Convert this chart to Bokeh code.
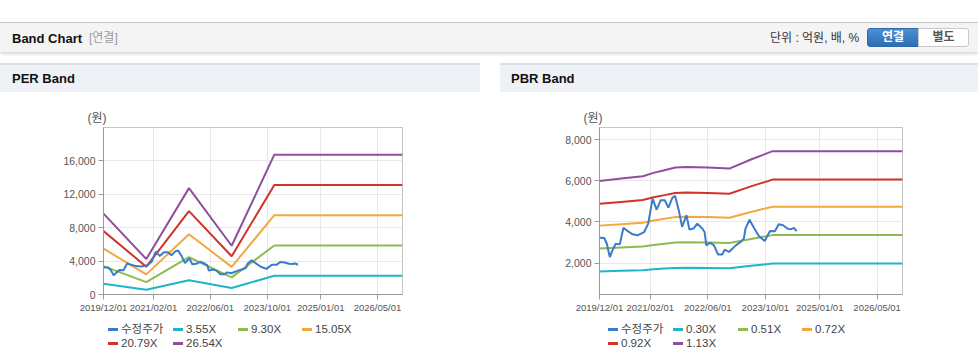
import pandas as pd
from bokeh.plotting import figure
from bokeh.models import (Div, FixedTicker, DatetimeTickFormatter,
                          Range1d, NumeralTickFormatter, Title)
from bokeh.layouts import column, row
from bokeh.embed import file_html
from bokeh.resources import INLINE

# ---------------- data ----------------
price_dates = ["2019-12-01", "2020-01-10", "2020-02-01", "2020-02-26", "2020-03-19", "2020-04-16",
               "2020-05-20", "2020-06-20", "2020-07-18", "2020-09-05", "2020-10-17", "2020-12-12",
               "2021-01-15", "2021-02-21", "2021-03-27", "2021-05-01", "2021-06-04", "2021-07-04",
               "2021-08-08", "2021-08-30", "2021-09-30", "2021-10-28", "2021-12-04", "2021-12-29",
               "2022-02-01", "2022-03-05", "2022-04-16", "2022-05-06", "2022-05-20", "2022-06-20",
               "2022-07-24", "2022-08-27", "2022-10-02", "2022-10-22", "2022-11-28", "2023-01-24",
               "2023-03-05", "2023-04-02", "2023-04-16", "2023-05-20", "2023-06-26", "2023-08-07",
               "2023-09-25", "2023-11-09", "2023-12-20", "2024-01-21", "2024-02-27", "2024-04-03",
               "2024-05-01", "2024-05-29", "2024-06-20"]
price_values = [3230, 3220, 2940, 2290, 2620, 2940, 2910, 3720, 3590, 3400, 3350, 3510,
                3920, 5140, 4600, 5060, 5060, 4700, 5190, 5270, 4570, 3760, 4330, 3630,
                3680, 3920, 3680, 3510, 2860, 2990, 2860, 2420, 2420, 2650, 2540, 2860,
                3020, 3190, 3680, 4110, 3720, 3320, 3070, 3560, 3550, 3890, 3840, 3680,
                3640, 3710, 3560]

per_dates = ["2019-12-01", "2020-12-01", "2021-12-01", "2022-12-01", "2023-12-01", "2026-12-01"]
per_355 = [1296, 568, 1704, 781, 2240, 2240]
per_930 = [3395, 1488, 4464, 2046, 5868, 5868]
per_1505 = [5493, 2408, 7224, 3311, 9497, 9497]
per_2079 = [7588, 3326, 9979, 4574, 13118, 13118]
per_2654 = [9687, 4246, 12739, 5839, 16747, 16747]
per_labels = ["수정주가", "3.55X", "9.30X", "15.05X", "20.79X", "26.54X"]

pbr_dates = ["2019-12-01", "2020-06-01", "2020-12-01", "2021-03-01", "2021-06-01", "2021-09-01",
             "2021-12-01", "2022-06-01", "2022-12-01", "2023-06-01", "2023-12-01", "2026-12-01"]
pbr_030 = [1593, 1623, 1653, 1697, 1731, 1766, 1774, 1766, 1753, 1869, 1977, 1977]
pbr_051 = [2708, 2759, 2810, 2884, 2943, 3001, 3016, 3001, 2979, 3177, 3361, 3361]
pbr_072 = [3823, 3895, 3967, 4072, 4154, 4237, 4258, 4237, 4206, 4486, 4745, 4745]
pbr_092 = [4885, 4977, 5069, 5203, 5308, 5414, 5441, 5414, 5375, 5732, 6063, 6063]
pbr_113 = [6000, 6113, 6226, 6390, 6520, 6650, 6683, 6650, 6601, 7040, 7447, 7447]
pbr_labels = ["수정주가", "0.30X", "0.51X", "0.72X", "0.92X", "1.13X"]

x_tick_dates = ["2019-12-01", "2021-02-01", "2022-06-01", "2023-10-01", "2025-01-01", "2026-05-01"]
x_start, x_end = "2019-12-01", "2026-12-01"
per_yticks = [0, 4000, 8000, 12000, 16000]
pbr_yticks = [2000, 4000, 6000, 8000]

colors = ["#3a7cc9", "#1db6c8", "#8dbb50", "#f3a83f", "#d2322a", "#8e4f9b"]

FONT = "Liberation Sans, Noto Sans CJK KR, sans-serif"
CSS_FONT = "'Liberation Sans','Noto Sans CJK KR',sans-serif"


def ms(d):
    return pd.Timestamp(d).value / 1e6


def make_chart(band_dates, bands, yr, yticks, frame_w, left_b, right_b):
    p = figure(x_axis_type="datetime", output_backend="svg", toolbar_location=None,
               frame_width=frame_w, frame_height=167,
               x_range=Range1d(ms(x_start), ms(x_end)), y_range=Range1d(*yr),
               min_border_left=left_b, min_border_right=right_b, min_border_top=35,
               min_border_bottom=22, margin=0)
    p.background_fill_color = "white"
    p.border_fill_color = "white"
    p.outline_line_color = "#c4c4c4"
    p.outline_line_width = 1
    bd = pd.to_datetime(band_dates)
    for i, vals in enumerate(bands):
        p.line(bd, vals, line_color=colors[i + 1], line_width=2)
    p.line(pd.to_datetime(price_dates), price_values, line_color=colors[0], line_width=2)

    p.xaxis.ticker = FixedTicker(ticks=[ms(d) for d in x_tick_dates])
    fmt = "%Y/%m/%d"
    p.xaxis.formatter = DatetimeTickFormatter(days=fmt, months=fmt, years=fmt, hours=fmt,
                                              minutes=fmt, seconds=fmt, milliseconds=fmt)
    p.yaxis.ticker = FixedTicker(ticks=yticks)
    p.yaxis.formatter = NumeralTickFormatter(format="0,0")
    for ax in (p.xaxis[0], p.yaxis[0]):
        ax.axis_line_color = "#9a9a9a"
        ax.major_tick_line_color = "#9a9a9a"
        ax.major_tick_out = 5
        ax.major_tick_in = 0
        ax.minor_tick_line_color = None
        ax.major_label_text_font = FONT
        ax.major_label_text_color = "#555555"
        ax.major_label_standoff = 3
    p.xaxis.major_label_standoff = 2
    p.xaxis.major_label_text_font_size = "9.5px"
    p.yaxis.major_label_text_font_size = "10.5px"
    p.xgrid.grid_line_color = "#e8e8e8"
    p.ygrid.grid_line_color = "#e8e8e8"

    p.add_layout(Title(text="(원)", align="left", offset=-16, standoff=5, text_font=FONT,
                       text_font_size="12px", text_font_style="normal",
                       text_color="#555555"), "above")
    return p


def legend_div(labels, w):
    col_x = [108, 173, 238, 302]
    parts = [f'<div style="position:relative;width:{w}px;height:39px;font-family:{CSS_FONT};">']
    for i, lab in enumerate(labels):
        r, c = divmod(i, 4)
        x = col_x[c]
        yc = 13 + 14 * r
        parts.append(f'<div style="position:absolute;left:{x}px;top:{yc - 1}px;width:10px;height:3px;'
                     f'background:{colors[i]};"></div>')
        parts.append(f'<div style="position:absolute;left:{x + 13}px;top:{yc - 8}px;line-height:16px;'
                     f'font-size:11.5px;color:#444;white-space:nowrap;">{lab}</div>')
    parts.append('</div>')
    return Div(text="".join(parts), width=w, height=39, margin=0)


per = make_chart(per_dates, [per_355, per_930, per_1505, per_2079, per_2654],
                 (0, 20000), per_yticks, 299, 103, 78)
pbr = make_chart(pbr_dates, [pbr_030, pbr_051, pbr_072, pbr_092, pbr_113],
                 (470, 8600), pbr_yticks, 303, 99, 76)

header_html = f"""
<div style="position:relative;width:978px;height:63px;font-family:{CSS_FONT};">
  <div style="position:absolute;left:0;top:22px;width:978px;height:30px;background:#f4f4f4;border-top:1px solid #c6c6c6;box-shadow:0 2px 3px rgba(0,0,0,0.16);box-sizing:border-box;"></div>
  <div style="position:absolute;left:12px;top:31px;font-size:13px;font-weight:bold;color:#111;line-height:15px;">Band Chart</div>
  <div style="position:absolute;left:89px;top:31px;font-size:12px;color:#999;line-height:15px;">[연결]</div>
  <div style="position:absolute;left:770px;top:31px;font-size:12px;color:#333;line-height:15px;">단위 : 억원, 배, %</div>
  <div style="position:absolute;left:867px;top:28px;width:52px;height:19px;background:linear-gradient(#4b8fd4,#2e6db2);border:1px solid #2d68a8;border-radius:3px 0 0 3px;color:#fff;font-size:12px;font-weight:bold;text-align:center;line-height:17px;box-sizing:border-box;">연결</div>
  <div style="position:absolute;left:918px;top:28px;width:51px;height:19px;background:#fff;border:1px solid #c8c8c8;border-radius:0 3px 3px 0;color:#555;font-size:12px;font-weight:bold;text-align:center;line-height:17px;box-sizing:border-box;">별도</div>
</div>
"""


def panel_title(text, w, left):
    return f"""
<div style="position:relative;width:{w}px;height:29px;background:#eef2f7;border-top:2px solid #dcdfe4;box-sizing:border-box;font-family:{CSS_FONT};">
  <div style="position:absolute;left:{left}px;top:6px;font-size:13px;font-weight:bold;color:#111;line-height:15px;">{text}</div>
</div>
"""


header = Div(text=header_html, width=978, height=63, margin=0)
per_title = Div(text=panel_title("PER Band", 480, 12), width=480, height=29, margin=0)
pbr_title = Div(text=panel_title("PBR Band", 478, 11), width=478, height=29, margin=0)
gap = Div(text="", width=20, height=10, margin=0)

per_col = column(per_title, per, legend_div(per_labels, 480), margin=0, spacing=0)
pbr_col = column(pbr_title, pbr, legend_div(pbr_labels, 478), margin=0, spacing=0)
body = row(per_col, gap, pbr_col, margin=0, spacing=0)
root = column(header, body, margin=0, spacing=0)

open("out.html", "w").write(file_html(root, INLINE))
